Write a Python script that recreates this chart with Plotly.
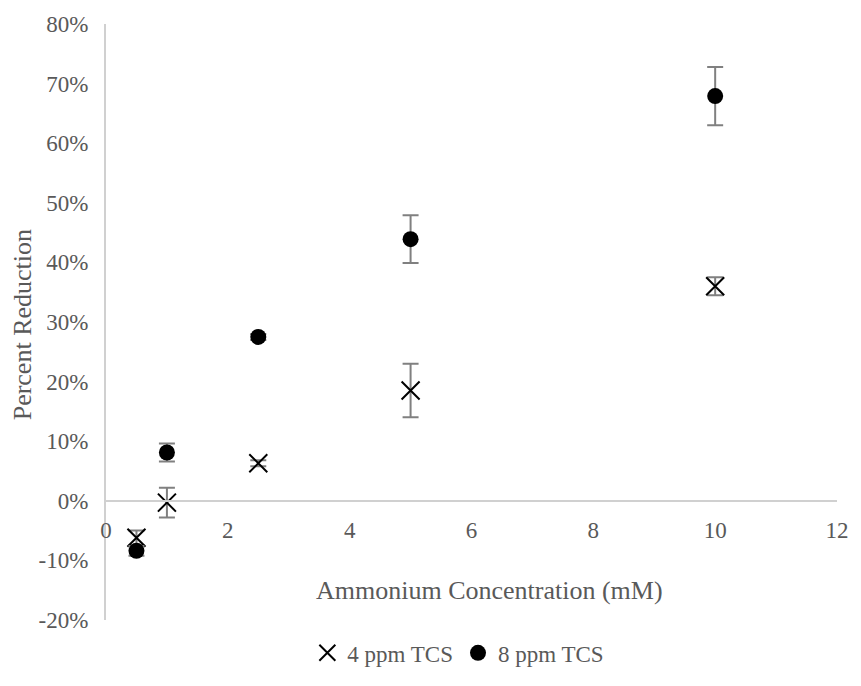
import plotly.graph_objects as go

# Data (fractions)
conc = [0.5, 1, 2.5, 5, 10]
tcs4 = [-0.062, -0.003, 0.063, 0.185, 0.360]
tcs4_err = [0.012, 0.025, 0.005, 0.045, 0.015]
tcs8 = [-0.084, 0.081, 0.275, 0.439, 0.679]
tcs8_err = [0.008, 0.015, 0.005, 0.040, 0.049]

y_ticks = [-0.2, -0.1, 0, 0.1, 0.2, 0.3, 0.4, 0.5, 0.6, 0.7, 0.8]
y_ticktext = ["-20%", "-10%", "0%", "10%", "20%", "30%", "40%", "50%", "60%", "70%", "80%"]
x_ticks = [0, 2, 4, 6, 8, 10, 12]
x_ticktext = ["0", "2", "4", "6", "8", "10", "12"]

FONT = "Liberation Serif"
GRAY = "#595959"
ERR = "#808080"
TICK_SIZE = 23
TITLE_SIZE = 26

fig = go.Figure()
fig.add_trace(go.Scatter(
    x=conc, y=tcs4, mode="markers", name="4 ppm TCS",
    marker=dict(symbol="x-thin", size=18, color="black", line=dict(width=2, color="black")),
    error_y=dict(type="data", array=tcs4_err, visible=True, color=ERR, thickness=2, width=8),
))
fig.add_trace(go.Scatter(
    x=conc, y=tcs8, mode="markers", name="8 ppm TCS",
    marker=dict(symbol="circle", size=16, color="black"),
    error_y=dict(type="data", array=tcs8_err, visible=True, color=ERR, thickness=2, width=8),
))

fig.update_layout(
    width=861, height=686,
    margin=dict(l=106, r=16, t=19, b=50),
    paper_bgcolor="white", plot_bgcolor="white",
    font=dict(family=FONT, color=GRAY, size=TICK_SIZE),
    showlegend=True,
    legend=dict(orientation="h", x=0.482, xanchor="center", y=(636 - 670) / 617, yanchor="middle",
                font=dict(family=FONT, color=GRAY, size=TICK_SIZE), itemwidth=30,
                bgcolor="rgba(0,0,0,0)"),
    xaxis=dict(range=[0, 12], tickvals=x_ticks, ticktext=x_ticktext,
               showgrid=False, zeroline=False, showline=True, linecolor="#d0d0d0", linewidth=2,
               anchor="free", position=0.2, ticks="", ticklen=0, ticklabelstandoff=9,
               tickfont=dict(family=FONT, color=GRAY, size=TICK_SIZE)),
    yaxis=dict(range=[-0.2, 0.8], tickvals=y_ticks, ticktext=y_ticktext,
               showgrid=False, zeroline=False, showline=True, linecolor="#d0d0d0", linewidth=2,
               ticks="", ticklen=0, ticklabelstandoff=11,
               tickfont=dict(family=FONT, color=GRAY, size=TICK_SIZE)),
    annotations=[
        dict(text="Ammonium Concentration (mM)", xref="paper", yref="paper",
             x=(494 - 106) / 739, y=(636 - 605) / 617, xanchor="center", yanchor="middle",
             showarrow=False, font=dict(family=FONT, color=GRAY, size=TITLE_SIZE)),
        dict(text="Percent Reduction", xref="paper", yref="paper",
             x=(22 - 106) / 739, y=(636 - 330) / 617, xanchor="center", yanchor="middle",
             textangle=-90, showarrow=False, font=dict(family=FONT, color=GRAY, size=TITLE_SIZE)),
    ],
)

fig.write_html("out.html")
